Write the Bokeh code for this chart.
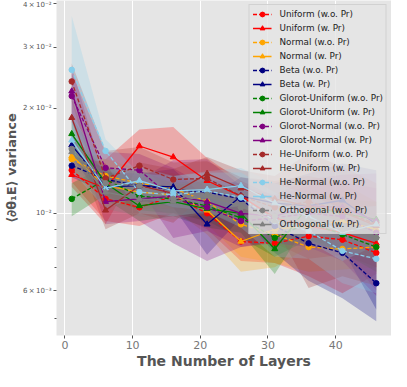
import numpy as np
from bokeh.plotting import figure
from bokeh.models import Range1d, FixedTicker, Legend, LegendItem
from bokeh.embed import file_html
from bokeh.resources import INLINE

# x positions (number of layers)
layers = [1, 6, 11, 16, 21, 26, 31, 36, 41, 46]

# mean variance, in units of 10^-2
uniform_wo = [1.33, 1.10, 1.04, 1.12, 1.00, 0.83, 0.82, 0.86, 0.84, 0.77]
uniform_w = [1.29, 1.18, 1.56, 1.45, 1.24, 1.12, 0.97, 0.92, 0.88, 0.82]
normal_wo = [1.43, 1.28, 1.22, 1.18, 1.08, 0.93, 0.87, 0.80, 0.79, 0.80]
normal_w = [1.46, 1.20, 1.15, 1.13, 1.02, 0.83, 0.90, 0.92, 0.95, 0.90]
beta_wo = [1.37, 1.25, 1.20, 1.17, 1.15, 1.10, 0.92, 0.82, 0.77, 0.63]
beta_w = [1.57, 1.19, 1.20, 1.19, 0.93, 1.12, 1.07, 1.05, 1.09, 0.93]
glorot_u_wo = [1.10, 1.25, 1.12, 1.10, 1.05, 0.97, 0.85, 0.94, 0.87, 0.80]
glorot_u_w = [1.69, 1.22, 1.05, 1.08, 1.03, 1.00, 0.79, 1.05, 1.00, 0.96]
glorot_n_wo = [2.17, 1.35, 1.33, 1.10, 1.04, 0.95, 0.97, 1.00, 0.98, 0.88]
glorot_n_w = [2.24, 1.08, 1.10, 1.12, 1.08, 1.00, 0.98, 1.05, 1.04, 0.95]
he_u_wo = [2.39, 1.26, 1.37, 1.25, 1.26, 1.12, 1.04, 1.08, 1.02, 0.93]
he_u_w = [1.88, 1.02, 1.20, 1.14, 1.30, 1.18, 1.10, 1.05, 1.01, 0.92]
he_n_wo = [2.58, 1.51, 1.15, 1.13, 1.16, 1.11, 0.95, 0.89, 0.78, 0.74]
he_n_w = [1.62, 1.18, 1.24, 1.16, 1.17, 1.20, 1.07, 0.98, 0.88, 0.93]
orth_wo = [1.53, 1.22, 1.20, 1.10, 1.13, 1.04, 0.98, 0.93, 0.90, 0.85]
orth_w = [1.50, 1.15, 1.10, 1.08, 1.12, 1.05, 0.95, 0.96, 0.92, 0.86]

# standard deviation (shaded band half-width), in units of 10^-2
uniform_wo_sd = [0.10, 0.15, 0.12, 0.12, 0.10, 0.10, 0.10, 0.20, 0.25, 0.10]
uniform_w_sd = [0.10, 0.25, 0.18, 0.32, 0.20, 0.12, 0.15, 0.18, 0.12, 0.12]
normal_wo_sd = [0.12, 0.15, 0.12, 0.12, 0.15, 0.18, 0.15, 0.12, 0.10, 0.10]
normal_w_sd = [0.12, 0.12, 0.12, 0.10, 0.15, 0.15, 0.20, 0.12, 0.10, 0.12]
beta_wo_sd = [0.10, 0.10, 0.12, 0.10, 0.10, 0.12, 0.15, 0.18, 0.20, 0.14]
beta_w_sd = [0.12, 0.12, 0.10, 0.15, 0.17, 0.15, 0.15, 0.25, 0.30, 0.40]
glorot_u_wo_sd = [0.12, 0.12, 0.10, 0.10, 0.10, 0.12, 0.10, 0.10, 0.10, 0.12]
glorot_u_w_sd = [0.20, 0.12, 0.10, 0.10, 0.12, 0.12, 0.12, 0.10, 0.10, 0.12]
glorot_n_wo_sd = [0.35, 0.15, 0.15, 0.25, 0.15, 0.15, 0.15, 0.20, 0.25, 0.30]
glorot_n_w_sd = [0.40, 0.15, 0.15, 0.30, 0.35, 0.20, 0.15, 0.20, 0.25, 0.35]
he_u_wo_sd = [0.30, 0.25, 0.18, 0.15, 0.15, 0.15, 0.20, 0.20, 0.20, 0.15]
he_u_w_sd = [0.25, 0.12, 0.20, 0.20, 0.15, 0.15, 0.18, 0.44, 0.35, 0.30]
he_n_wo_sd = [1.10, 0.12, 0.15, 0.15, 0.15, 0.20, 0.20, 0.15, 0.15, 0.15]
he_n_w_sd = [0.30, 0.15, 0.12, 0.12, 0.15, 0.15, 0.15, 0.15, 0.15, 0.12]
orth_wo_sd = [0.15, 0.12, 0.12, 0.12, 0.12, 0.12, 0.12, 0.12, 0.12, 0.12]
orth_w_sd = [0.15, 0.12, 0.12, 0.12, 0.12, 0.12, 0.12, 0.12, 0.12, 0.12]

names = ["Uniform (w.o. Pr)", "Uniform (w. Pr)", "Normal (w.o. Pr)", "Normal (w. Pr)",
         "Beta (w.o. Pr)", "Beta (w. Pr)", "Glorot-Uniform (w.o. Pr)", "Glorot-Uniform (w. Pr)",
         "Glorot-Normal (w.o. Pr)", "Glorot-Normal (w. Pr)", "He-Uniform (w.o. Pr)", "He-Uniform (w. Pr)",
         "He-Normal (w.o. Pr)", "He-Normal (w. Pr)", "Orthogonal (w.o. Pr)", "Orthogonal (w. Pr)"]
means = [uniform_wo, uniform_w, normal_wo, normal_w, beta_wo, beta_w, glorot_u_wo, glorot_u_w,
         glorot_n_wo, glorot_n_w, he_u_wo, he_u_w, he_n_wo, he_n_w, orth_wo, orth_w]
sds = [uniform_wo_sd, uniform_w_sd, normal_wo_sd, normal_w_sd, beta_wo_sd, beta_w_sd,
       glorot_u_wo_sd, glorot_u_w_sd, glorot_n_wo_sd, glorot_n_w_sd, he_u_wo_sd, he_u_w_sd,
       he_n_wo_sd, he_n_w_sd, orth_wo_sd, orth_w_sd]
base_colors = ["red", "orange", "navy", "green", "purple", "brown", "skyblue", "gray"]
unit = 1e-2

# y tick labels (log axis)
y_label_ticks = [0.006, 0.01, 0.02, 0.03, 0.04]
y_label_text = ["6\u2009×\u200910⁻³", "10⁻²", "2\u2009×\u200910⁻²", "3\u2009×\u200910⁻²", "4\u2009×\u200910⁻²"]
y_minor_ticks = [0.005, 0.007, 0.008, 0.009]
y_grid_ticks = [0.01]
x_ticks = [0, 10, 20, 30, 40]

FONT = "DejaVu Sans"
x_lo, x_hi = -1.25, 48.25

p = figure(width=391, height=371, y_axis_type="log", output_backend="svg", toolbar_location=None,
           x_range=Range1d(x_lo, x_hi), y_range=Range1d(0.00446, 0.0408),
           min_border_left=40, min_border_right=0, min_border_top=0, min_border_bottom=26)
p.background_fill_color = "#E5E5E5"
p.border_fill_color = "white"
p.outline_line_color = None

x = np.array(layers, dtype=float)
items = []
for i, (m, s) in enumerate(zip(means, sds)):
    col = base_colors[i // 2]
    m = np.array(m) * unit
    s = np.array(s) * unit
    p.varea(x=x, y1=m - s, y2=m + s, fill_color=col, fill_alpha=0.25)

for i, (name, m) in enumerate(zip(names, means)):
    col = base_colors[i // 2]
    m = np.array(m) * unit
    with_pr = (i % 2 == 1)
    r1 = p.line(x, m, line_color=col, line_width=1.3, line_dash="solid" if with_pr else "4 2")
    r2 = p.scatter(x, m, marker="triangle" if with_pr else "circle", size=6 if with_pr else 5.5,
                   fill_color=col, line_color=col)
    items.append(LegendItem(label=name, renderers=[r1, r2]))

legend = Legend(items=items, location="top_right")
legend.label_text_font = FONT
legend.label_text_font_size = "8.8px"
legend.label_text_color = "#222222"
legend.glyph_width = 19
legend.glyph_height = 12
legend.label_height = 12
legend.spacing = 2
legend.padding = 3
legend.margin = 4
legend.label_standoff = 8
legend.background_fill_color = "#E5E5E5"
legend.background_fill_alpha = 0.8
legend.border_line_color = "#CCCCCC"
legend.border_line_alpha = 0.8
p.add_layout(legend)

# axes
xa = p.xaxis[0]
xa.ticker = FixedTicker(ticks=x_ticks, minor_ticks=[])
xa.axis_label = "The Number of Layers"
ya = p.yaxis[0]
ya.ticker = FixedTicker(ticks=y_label_ticks, minor_ticks=y_minor_ticks)
ya.major_label_overrides = {t: s for t, s in zip(y_label_ticks, y_label_text)}
ya.axis_label = "⟨∂θ₁E⟩ variance"
for ax in (xa, ya):
    ax.axis_line_color = None
    ax.major_tick_line_color = "#555555"
    ax.minor_tick_line_color = "#555555"
    ax.major_tick_in = 0
    ax.major_tick_out = 3
    ax.minor_tick_in = 0
    ax.minor_tick_out = 2
    ax.major_label_text_font = FONT
    ax.major_label_text_color = "#555555"
    ax.axis_label_text_font = FONT
    ax.axis_label_text_font_size = "14px"
    ax.axis_label_text_font_style = "bold"
    ax.axis_label_text_color = "#555555"
    ax.axis_label_standoff = 1
    ax.major_label_standoff = 2
xa.major_label_text_font_size = "11px"
xa.major_label_text_color = "#777777"
ya.major_label_text_font_size = "7px"
ya.axis_label_text_font_size = "13px"

p.xgrid.grid_line_color = "white"
p.xgrid.grid_line_width = 1
p.ygrid.ticker = FixedTicker(ticks=y_grid_ticks, minor_ticks=[])
p.ygrid.grid_line_color = "white"
p.ygrid.grid_line_width = 1

open("out.html", "w").write(file_html(p, INLINE))
